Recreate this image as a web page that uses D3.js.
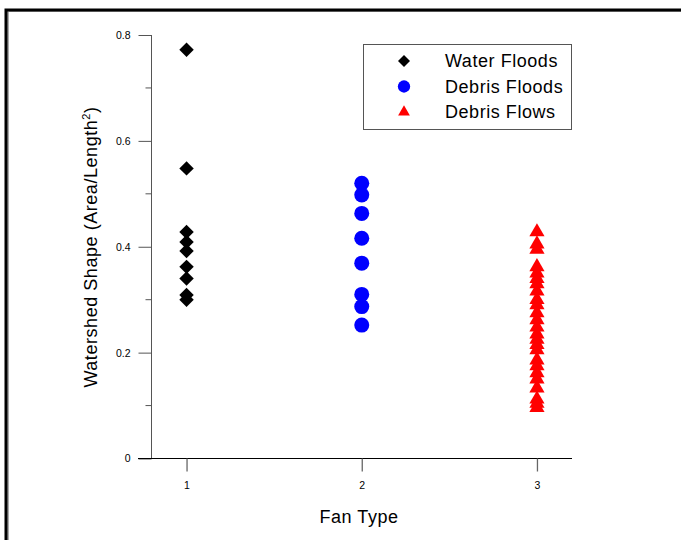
<!DOCTYPE html>
<html>
<head>
<meta charset="utf-8">
<script src="https://cdn.jsdelivr.net/npm/d3@7"></script>
<style>
  html, body { margin: 0; padding: 0; background: #fff; }
  svg { display: block; font-family: Arial, "Liberation Sans", sans-serif; }
</style>
</head>
<body>
<div id="chart"></div>
<script>
// Watershed shape by fan type
const seriesNames = ["Water Floods", "Debris Floods", "Debris Flows"];
const fanTypes = [1, 2, 3];
const waterFloods = [0.772, 0.548, 0.428, 0.409, 0.392, 0.362, 0.340, 0.309, 0.300];
const debrisFloods = [0.520, 0.498, 0.463, 0.416, 0.369, 0.310, 0.287, 0.252];
const debrisFlows = [0.428, 0.405, 0.395, 0.362, 0.350, 0.340, 0.330, 0.316, 0.300, 0.290,
  0.275, 0.262, 0.248, 0.235, 0.225, 0.215, 0.205, 0.186, 0.175, 0.162, 0.150, 0.133,
  0.112, 0.104, 0.096];
const yTicks = [0, 0.2, 0.4, 0.6, 0.8];
const yMinorTicks = [0.1, 0.3, 0.5, 0.7];

(function () {
  const width = 681;
  const height = 540;

  const svg = d3.select("#chart")
    .append("svg")
    .attr("width", width)
    .attr("height", height);

  // page frame (top + left edge)
  svg.append("path")
    .attr("d", `M8,${height} V11 H${width}`)
    .attr("fill", "none")
    .attr("stroke", "#aaa")
    .attr("stroke-width", 2);
  svg.append("path")
    .attr("d", `M6,${height} V10 H${width}`)
    .attr("fill", "none")
    .attr("stroke", "#000")
    .attr("stroke-width", 3);

  const x = d3.scaleLinear().domain([0.8, 3.2]).range([151.5, 572]);
  const y = d3.scaleLinear().domain([0, 0.8]).range([458.5, 35]);

  const axisColor = "#555";
  const titleFont = { size: 18, spacing: 0.55 };

  // y axis
  const yAxis = svg.append("g")
    .attr("transform", `translate(${x(0.8)},0)`)
    .call(d3.axisLeft(y).tickValues(yTicks).tickSize(13).tickPadding(8)
      .tickFormat((d) => d === 0 ? "0" : d3.format(".1f")(d)));
  yAxis.select(".domain").attr("stroke", axisColor).attr("d", `M0,${y(0.8)}V${y(0)}`);
  yAxis.selectAll(".tick line").attr("stroke", axisColor);
  yAxis.selectAll(".tick text").attr("font-size", 10.5).attr("fill", "#000");

  svg.append("g")
    .attr("transform", `translate(${x(0.8)},0)`)
    .selectAll("line")
    .data(yMinorTicks)
    .join("line")
    .attr("x1", -6).attr("x2", 0)
    .attr("y1", (d) => y(d)).attr("y2", (d) => y(d))
    .attr("stroke", axisColor);

  // x axis
  const xAxis = svg.append("g")
    .attr("transform", `translate(0,${y(0)})`)
    .call(d3.axisBottom(x).tickValues(fanTypes).tickSize(13).tickPadding(10)
      .tickFormat(d3.format("d")));
  xAxis.select(".domain").attr("stroke", "#000").attr("d", `M138,0H${x(3.2)}`);
  xAxis.selectAll(".tick line").attr("stroke", "#666").attr("stroke-width", 1.3);
  xAxis.selectAll(".tick text").attr("font-size", 10.5).attr("fill", "#000");

  // axis titles
  svg.append("text")
    .attr("x", 359).attr("y", 523)
    .attr("text-anchor", "middle")
    .attr("font-size", titleFont.size)
    .attr("letter-spacing", titleFont.spacing)
    .text("Fan Type");

  const yLabel = svg.append("text")
    .attr("transform", "translate(97,247) rotate(-90)")
    .attr("text-anchor", "middle")
    .attr("font-size", titleFont.size)
    .attr("letter-spacing", titleFont.spacing);
  yLabel.append("tspan").text("Watershed Shape (Area/Length");
  yLabel.append("tspan").attr("font-size", 11).attr("dy", -7).text("2");
  yLabel.append("tspan").attr("dy", 7).text(")");

  const styles = [
    { data: waterFloods, fan: 1, color: "#000", type: d3.symbolSquare, size: 104, rot: 45, legendSize: 72 },
    { data: debrisFloods, fan: 2, color: "#0000ff", type: d3.symbolCircle, size: 177, rot: 0, legendSize: 120 },
    { data: debrisFlows, fan: 3, color: "#ff0000", type: d3.symbolTriangle, size: 100, rot: 0, legendSize: 60 },
  ];

  styles.forEach((s) => {
    const sym = d3.symbol().type(s.type).size(s.size);
    svg.append("g")
      .selectAll("path")
      .data(s.data)
      .join("path")
      .attr("d", sym)
      .attr("fill", s.color)
      .attr("transform", (d) => `translate(${x(s.fan)},${y(d)}) rotate(${s.rot})`);
  });

  // legend
  const legend = svg.append("g");
  legend.append("rect")
    .attr("x", 363.5).attr("y", 44.5)
    .attr("width", 208).attr("height", 85)
    .attr("fill", "#fff")
    .attr("stroke", "#555");

  const items = legend.selectAll("g.item")
    .data(styles)
    .join("g")
    .attr("class", "item")
    .attr("transform", (d, i) => `translate(0,${61 + i * 25.5})`);

  items.append("path")
    .attr("d", (d) => d3.symbol().type(d.type).size(d.legendSize)())
    .attr("fill", (d) => d.color)
    .attr("transform", (d) => `translate(404,0) rotate(${d.rot})`);

  items.append("text")
    .attr("x", 445).attr("y", 6)
    .attr("font-size", titleFont.size)
    .attr("letter-spacing", titleFont.spacing)
    .text((d, i) => seriesNames[i]);
})();
</script>
</body>
</html>
